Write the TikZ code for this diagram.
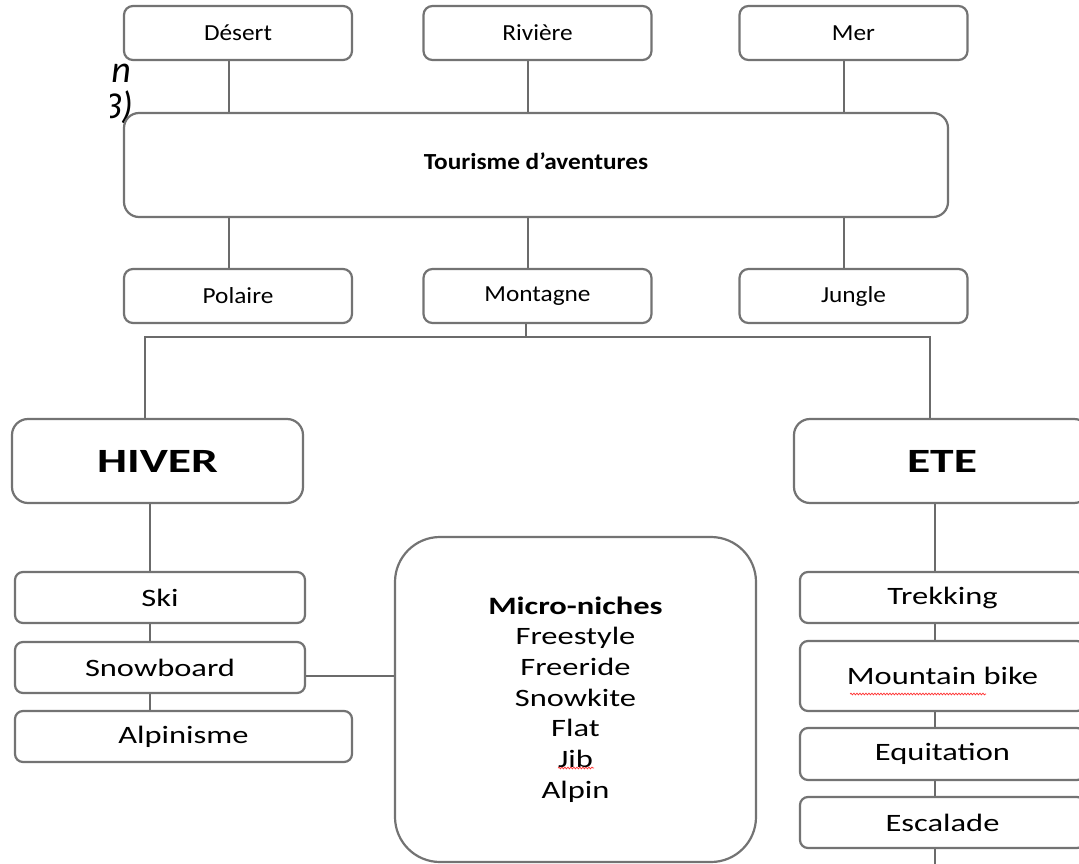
\documentclass[tikz,border=0pt]{standalone}
\usepackage{fontspec}
\setmainfont{Carlito}
\newfontfamily\topfont{Carlito}[FakeStretch=1.1]
\newfontfamily\lowfont{Carlito}[FakeStretch=1.3]
\newfontfamily\seasonfont{Carlito}[FakeStretch=1.4]
\usetikzlibrary{decorations.pathmorphing}

\begin{document}
\begin{tikzpicture}[
  x=1pt, y=-1pt,
  box/.style={draw=black!55, line width=2.2pt, fill=white, inner sep=0pt,
              rounded corners=9pt, align=center},
  topbox/.style={box, minimum width=228pt, minimum height=54pt,
                 font=\topfont\fontsize{23}{28}\selectfont},
  mainbox/.style={box, rounded corners=15pt, minimum width=824pt, minimum height=104pt,
                  font=\topfont\bfseries\fontsize{23}{28}\selectfont},
  seasonbox/.style={box, rounded corners=16pt, minimum height=84pt,
                    font=\seasonfont\bfseries\fontsize{34}{40}\selectfont},
  sportbox/.style={box, rounded corners=8pt, minimum height=51pt,
                   font=\lowfont\fontsize{25}{30}\selectfont},
  nichebox/.style={box, rounded corners=45pt, minimum width=361pt, minimum height=325pt,
                   font=\lowfont\fontsize{25}{30.7}\selectfont},
  link/.style={draw=black!58, line width=2pt},
  spell/.style={draw=red!80, line width=0.7pt, decorate,
                decoration={snake, amplitude=0.9pt, segment length=3pt}},
  cut/.style={font=\itshape\fontsize{38}{38}\selectfont, inner sep=0pt, anchor=base east}
]
  \clip (0,0) rectangle (1079,864);
  \useasboundingbox (0,0) rectangle (1079,864);

  % cut-off caption on the left
  \begin{scope}
    \clip (110,50) rectangle (140,130);
    \node[cut] (capa) at (131,83) {n};
    \node[cut] (capb) at (133,119) {3)};
  \end{scope}

  % spines
  \coordinate (colA) at (229,0);
  \coordinate (colB) at (528,0);
  \coordinate (colC) at (844,0);
  \coordinate (fork) at (526,337);
  \coordinate (lspine) at (150,0);
  \coordinate (rspine) at (935,0);
  \coordinate (rend) at (935,870);

  % milieux
  \node[topbox] (desert)   at (238,33)    {Désert};
  \node[topbox] (riviere)  at (537.5,33)  {Rivière};
  \node[topbox] (mer)      at (853.5,33)  {Mer};
  \node[mainbox] (tour)    at (536,165)   {\raisebox{7pt}{Tourisme d’aventures}};
  \node[topbox] (polaire)  at (238,296)   {Polaire};
  \node[topbox] (montagne) at (537.5,296) {Montagne};
  \node[topbox] (jungle)   at (853.5,296) {Jungle};

  \draw[link] (desert.south -| colA) -- (tour.north -| colA);
  \draw[link] (riviere.south -| colB) -- (tour.north -| colB);
  \draw[link] (mer.south -| colC) -- (tour.north -| colC);
  \draw[link] (tour.south -| colA) -- (polaire.north -| colA);
  \draw[link] (tour.south -| colB) -- (montagne.north -| colB);
  \draw[link] (tour.south -| colC) -- (jungle.north -| colC);

  % saisons
  \node[seasonbox, minimum width=291pt] (hiver) at (157.5,461) {HIVER};
  \node[seasonbox, minimum width=296pt] (ete)   at (942,461)   {ETE};

  \draw[link] (fork |- montagne.south) -- (fork);
  \draw[link] ([xshift=-12.5pt]hiver.north) |- (fork) -| ([xshift=-12pt]ete.north);

  % hiver
  \node[sportbox, minimum width=290pt] (ski)   at (160,597.5)   {Ski};
  \node[sportbox, minimum width=290pt] (snow)  at (160,667.5)   {Snowboard};
  \node[sportbox, minimum width=337pt] (alpi)  at (183.5,736.5) {Alpinisme};
  \node[nichebox] (micro) at (575.5,699.5)
       {\textbf{Micro-niches}\\Freestyle\\Freeride\\Snowkite\\Flat\\Jib\\Alpin};

  \draw[link] (hiver.south -| lspine) -- (ski.north -| lspine);
  \draw[link] (ski.south -| lspine) -- (snow.north -| lspine);
  \draw[link] (snow.south -| lspine) -- (alpi.north -| lspine);
  \draw[link] ([yshift=-8.5pt]snow.east) -- ([yshift=-8.5pt]snow.east -| micro.west);

  % ete
  \node[sportbox, minimum width=285pt] (trek) at (942.5,597.5) {Trekking};
  \node[sportbox, minimum width=285pt, minimum height=70pt] (mtb) at (942.5,676)
       {\raisebox{-4pt}{Mountain bike}};
  \node[sportbox, minimum width=285pt, minimum height=52pt] (equi) at (942.5,754) {Equitation};
  \node[sportbox, minimum width=285pt] (esca) at (942.5,822.5) {Escalade};

  \draw[link] (ete.south -| rspine) -- (trek.north -| rspine);
  \draw[link] (trek.south -| rspine) -- (mtb.north -| rspine);
  \draw[link] (mtb.south -| rspine) -- (equi.north -| rspine);
  \draw[link] (equi.south -| rspine) -- (esca.north -| rspine);
  \draw[link] (esca.south -| rspine) -- (rend);

  % spell-check marks
  \draw[spell] (850,694) -- (986,694);
  \draw[spell] (558,768) -- (594,768);
\end{tikzpicture}
\end{document}
